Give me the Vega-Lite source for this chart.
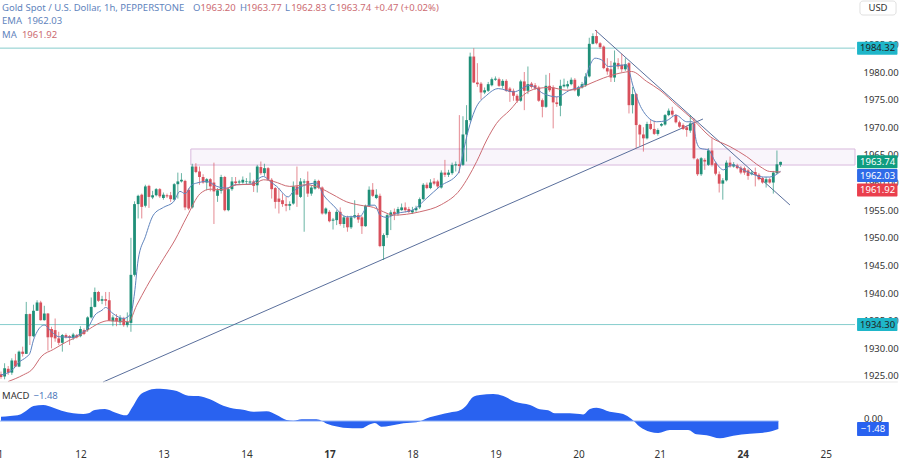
{
  "$schema": "https://vega.github.io/schema/vega-lite/v6.json",
  "width": 855,
  "height": 445,
  "autosize": "none",
  "padding": {"left": 0, "top": 0, "right": 45, "bottom": 17},
  "background": "#ffffff",
  "config": {
    "view": {"stroke": null},
    "font": "Noto Sans",
    "scale": {"continuousPadding": 0},
    "axis": {"labelOverlap": false, "labelBound": false, "labelFlush": false, "grid": false, "domain": false, "ticks": false, "title": null}
  },
  "datasets": {
    "one": [{}],
    "candles": [
      {"bar":0,"open":1925.3,"high":1925.8,"low":1924.5,"close":1924.8},
      {"bar":1,"open":1924.9,"high":1927.3,"low":1924.4,"close":1926.4},
      {"bar":2,"open":1926.3,"high":1926.8,"low":1925.2,"close":1925.6},
      {"bar":3,"open":1925.6,"high":1928.2,"low":1925.2,"close":1927.8},
      {"bar":4,"open":1927.8,"high":1929,"low":1926.6,"close":1926.7},
      {"bar":5,"open":1926.7,"high":1929.6,"low":1926.6,"close":1929.4},
      {"bar":6,"open":1929.4,"high":1930.3,"low":1928.5,"close":1929},
      {"bar":7,"open":1929,"high":1938.4,"low":1929,"close":1936.2},
      {"bar":8,"open":1936.2,"high":1936.3,"low":1930.6,"close":1932.2},
      {"bar":9,"open":1932.2,"high":1937.9,"low":1932,"close":1936.8},
      {"bar":10,"open":1936.8,"high":1938.7,"low":1936.8,"close":1938.3},
      {"bar":11,"open":1938.3,"high":1938.6,"low":1935,"close":1935.1},
      {"bar":12,"open":1935.1,"high":1937.7,"low":1935,"close":1936.3},
      {"bar":13,"open":1936.3,"high":1936.4,"low":1929.6,"close":1932},
      {"bar":14,"open":1933.5,"high":1933.9,"low":1930,"close":1932},
      {"bar":15,"open":1933.3,"high":1935.4,"low":1931.2,"close":1931.8},
      {"bar":16,"open":1931.8,"high":1933,"low":1930.6,"close":1931},
      {"bar":17,"open":1931,"high":1932.6,"low":1929.4,"close":1932.4},
      {"bar":18,"open":1932.4,"high":1932.7,"low":1931.8,"close":1932},
      {"bar":19,"open":1932.2,"high":1932.4,"low":1930.6,"close":1931.9},
      {"bar":20,"open":1931.9,"high":1932.8,"low":1931.5,"close":1932.5},
      {"bar":21,"open":1932.4,"high":1932.6,"low":1931.8,"close":1932},
      {"bar":22,"open":1932.2,"high":1934,"low":1932,"close":1933.5},
      {"bar":23,"open":1933.3,"high":1933.6,"low":1932.4,"close":1932.6},
      {"bar":24,"open":1933.3,"high":1935.8,"low":1933,"close":1935.6},
      {"bar":25,"open":1935.6,"high":1939.2,"low":1935.4,"close":1937.5},
      {"bar":26,"open":1937.5,"high":1941,"low":1937.4,"close":1940.2},
      {"bar":27,"open":1940.2,"high":1940.4,"low":1938.4,"close":1938.6},
      {"bar":28,"open":1938.6,"high":1939.5,"low":1938,"close":1938.9},
      {"bar":29,"open":1938.9,"high":1940.2,"low":1937.7,"close":1938.6},
      {"bar":30,"open":1938.7,"high":1940.2,"low":1935,"close":1935},
      {"bar":31,"open":1934.9,"high":1936,"low":1934,"close":1935.6},
      {"bar":32,"open":1935.5,"high":1936.2,"low":1934,"close":1934.9},
      {"bar":33,"open":1934.7,"high":1936,"low":1934.2,"close":1935.5},
      {"bar":34,"open":1935.4,"high":1935.7,"low":1933.9,"close":1934.2},
      {"bar":35,"open":1934.2,"high":1936.5,"low":1933.8,"close":1934.8},
      {"bar":36,"open":1934.6,"high":1950,"low":1933,"close":1943.3},
      {"bar":37,"open":1943.3,"high":1956.6,"low":1943,"close":1956.1},
      {"bar":38,"open":1956.1,"high":1957.8,"low":1953.5,"close":1957.6},
      {"bar":39,"open":1957.8,"high":1958,"low":1953.5,"close":1955.6},
      {"bar":40,"open":1955.8,"high":1959.6,"low":1955.5,"close":1959.3},
      {"bar":41,"open":1959.4,"high":1959.6,"low":1955.4,"close":1957.4},
      {"bar":42,"open":1957.3,"high":1958.5,"low":1957,"close":1957.7},
      {"bar":43,"open":1957.7,"high":1959,"low":1957.5,"close":1958.8},
      {"bar":44,"open":1958.8,"high":1959,"low":1957.2,"close":1957.5},
      {"bar":45,"open":1957.2,"high":1958.2,"low":1956.9,"close":1957.8},
      {"bar":46,"open":1957.7,"high":1958,"low":1957.2,"close":1957.5},
      {"bar":47,"open":1957.7,"high":1958.3,"low":1956.5,"close":1957},
      {"bar":48,"open":1956.9,"high":1959.9,"low":1956.7,"close":1959.7},
      {"bar":49,"open":1959.7,"high":1961.8,"low":1957.1,"close":1960.2},
      {"bar":50,"open":1960.2,"high":1961.7,"low":1960,"close":1960.5},
      {"bar":51,"open":1960.3,"high":1960.5,"low":1955,"close":1955.5},
      {"bar":52,"open":1958.7,"high":1959,"low":1955,"close":1955.3},
      {"bar":53,"open":1955.5,"high":1963.4,"low":1955.3,"close":1962.9},
      {"bar":54,"open":1962.9,"high":1963.5,"low":1961.7,"close":1961.9},
      {"bar":55,"open":1962,"high":1962.9,"low":1959.6,"close":1961},
      {"bar":56,"open":1961,"high":1961.5,"low":1959.8,"close":1960},
      {"bar":57,"open":1960,"high":1960.8,"low":1958.6,"close":1960.6},
      {"bar":58,"open":1960.6,"high":1960.8,"low":1958.4,"close":1959.3},
      {"bar":59,"open":1960,"high":1963.6,"low":1952.5,"close":1958.4},
      {"bar":60,"open":1957.6,"high":1959,"low":1956.5,"close":1958.6},
      {"bar":61,"open":1958.5,"high":1961.4,"low":1958,"close":1961},
      {"bar":62,"open":1961,"high":1961.2,"low":1954.8,"close":1955},
      {"bar":63,"open":1955,"high":1959,"low":1954.8,"close":1958.8},
      {"bar":64,"open":1958.8,"high":1961,"low":1958.5,"close":1960.2},
      {"bar":65,"open":1960.2,"high":1961,"low":1959.5,"close":1959.9},
      {"bar":66,"open":1960,"high":1960.5,"low":1959.7,"close":1960.2},
      {"bar":67,"open":1960,"high":1961.1,"low":1959.8,"close":1960.5},
      {"bar":68,"open":1960.1,"high":1960.8,"low":1959.7,"close":1960.2},
      {"bar":69,"open":1960,"high":1961.8,"low":1959.7,"close":1960.2},
      {"bar":70,"open":1960.2,"high":1960.5,"low":1958.3,"close":1959.4},
      {"bar":71,"open":1959.5,"high":1963.2,"low":1958.2,"close":1962.9},
      {"bar":72,"open":1962.8,"high":1963.8,"low":1961.4,"close":1961.7},
      {"bar":73,"open":1961.7,"high":1963.4,"low":1961.2,"close":1962.6},
      {"bar":74,"open":1962.6,"high":1962.8,"low":1960.4,"close":1960.5},
      {"bar":75,"open":1960.5,"high":1960.8,"low":1957.1,"close":1958.8},
      {"bar":76,"open":1959,"high":1959.2,"low":1955.3,"close":1956.5},
      {"bar":77,"open":1957.1,"high":1959,"low":1954.4,"close":1956.5},
      {"bar":78,"open":1956.8,"high":1958,"low":1955.6,"close":1956.1},
      {"bar":79,"open":1956.1,"high":1957.4,"low":1954.8,"close":1955.8},
      {"bar":80,"open":1955.8,"high":1956.6,"low":1955,"close":1956.1},
      {"bar":81,"open":1956.2,"high":1960.2,"low":1956,"close":1959.3},
      {"bar":82,"open":1959.3,"high":1962.9,"low":1955.6,"close":1957.8},
      {"bar":83,"open":1957.4,"high":1960.8,"low":1957.2,"close":1960.2},
      {"bar":84,"open":1960,"high":1960.6,"low":1951.1,"close":1960.2},
      {"bar":85,"open":1960.3,"high":1962,"low":1957.4,"close":1958},
      {"bar":86,"open":1958,"high":1959.4,"low":1957.6,"close":1959.1},
      {"bar":87,"open":1958.9,"high":1960.6,"low":1958.7,"close":1960.3},
      {"bar":88,"open":1960.3,"high":1960.5,"low":1958.8,"close":1959.1},
      {"bar":89,"open":1959.1,"high":1959.3,"low":1954.2,"close":1954.4},
      {"bar":90,"open":1954.4,"high":1955.5,"low":1954.2,"close":1955.3},
      {"bar":91,"open":1954.7,"high":1955,"low":1952.8,"close":1953},
      {"bar":92,"open":1953.1,"high":1953.6,"low":1951.5,"close":1953.3},
      {"bar":93,"open":1953.2,"high":1955,"low":1952.3,"close":1954.7},
      {"bar":94,"open":1954.7,"high":1955.5,"low":1952.2,"close":1952.5},
      {"bar":95,"open":1952.5,"high":1954,"low":1951.8,"close":1953.7},
      {"bar":96,"open":1953.7,"high":1954,"low":1951.1,"close":1951.9},
      {"bar":97,"open":1951.9,"high":1954,"low":1951.6,"close":1953.7},
      {"bar":98,"open":1953.7,"high":1956.8,"low":1953.5,"close":1954.1},
      {"bar":99,"open":1954.1,"high":1954.5,"low":1952.7,"close":1953.3},
      {"bar":100,"open":1953.7,"high":1954,"low":1950.7,"close":1952.1},
      {"bar":101,"open":1952.1,"high":1956,"low":1952,"close":1955.8},
      {"bar":102,"open":1955.8,"high":1959.3,"low":1955.6,"close":1958.7},
      {"bar":103,"open":1958.7,"high":1959.9,"low":1957.4,"close":1957.6},
      {"bar":104,"open":1957.2,"high":1958.8,"low":1957,"close":1957.8},
      {"bar":105,"open":1957.6,"high":1958,"low":1948.3,"close":1948.5},
      {"bar":106,"open":1948.5,"high":1950.8,"low":1946,"close":1950.5},
      {"bar":107,"open":1950.5,"high":1954.4,"low":1950,"close":1954.1},
      {"bar":108,"open":1954,"high":1955,"low":1951.4,"close":1954.6},
      {"bar":109,"open":1954.7,"high":1955.3,"low":1953.2,"close":1954.3},
      {"bar":110,"open":1954.4,"high":1955.6,"low":1954,"close":1955.2},
      {"bar":111,"open":1955,"high":1956.2,"low":1954.9,"close":1955.5},
      {"bar":112,"open":1955.5,"high":1956.4,"low":1954.6,"close":1955},
      {"bar":113,"open":1955.2,"high":1955.6,"low":1954.5,"close":1954.7},
      {"bar":114,"open":1954.6,"high":1955.6,"low":1954.3,"close":1955},
      {"bar":115,"open":1955,"high":1955.8,"low":1954.7,"close":1955.4},
      {"bar":116,"open":1955.5,"high":1957.3,"low":1955.2,"close":1957},
      {"bar":117,"open":1957,"high":1959.9,"low":1956.8,"close":1959.6},
      {"bar":118,"open":1959.6,"high":1960,"low":1958.8,"close":1959},
      {"bar":119,"open":1959,"high":1960.6,"low":1958.8,"close":1960},
      {"bar":120,"open":1960.2,"high":1960.8,"low":1959.5,"close":1959.8},
      {"bar":121,"open":1960.2,"high":1960.5,"low":1959,"close":1959.3},
      {"bar":122,"open":1959.1,"high":1962.2,"low":1958.9,"close":1961.8},
      {"bar":123,"open":1961.8,"high":1964.1,"low":1961,"close":1961.4},
      {"bar":124,"open":1961.4,"high":1962.3,"low":1961,"close":1961.8},
      {"bar":125,"open":1961.7,"high":1963.6,"low":1961.4,"close":1963.2},
      {"bar":126,"open":1963.1,"high":1963.8,"low":1962,"close":1963.3},
      {"bar":127,"open":1963.3,"high":1972.2,"low":1961.7,"close":1963},
      {"bar":128,"open":1963.2,"high":1972,"low":1963,"close":1968.7},
      {"bar":129,"open":1968.7,"high":1974,"low":1963.8,"close":1971.3},
      {"bar":130,"open":1971.3,"high":1983.5,"low":1971,"close":1982.8},
      {"bar":131,"open":1982.8,"high":1984.3,"low":1978,"close":1978.1},
      {"bar":132,"open":1978.1,"high":1981.6,"low":1977.3,"close":1977.8},
      {"bar":133,"open":1977.9,"high":1978.2,"low":1975,"close":1976.3},
      {"bar":134,"open":1976.3,"high":1977.2,"low":1976,"close":1976.7},
      {"bar":135,"open":1976.6,"high":1978.2,"low":1976.4,"close":1977.8},
      {"bar":136,"open":1977.6,"high":1979,"low":1977.4,"close":1978.7},
      {"bar":137,"open":1978.6,"high":1979.2,"low":1978.4,"close":1978.8},
      {"bar":138,"open":1978.7,"high":1979,"low":1977.3,"close":1977.5},
      {"bar":139,"open":1977.5,"high":1978.7,"low":1977,"close":1978.4},
      {"bar":140,"open":1978.4,"high":1978.7,"low":1976.4,"close":1976.6},
      {"bar":141,"open":1977,"high":1977.3,"low":1974.6,"close":1976.4},
      {"bar":142,"open":1976.6,"high":1977,"low":1974.8,"close":1975.7},
      {"bar":143,"open":1975.7,"high":1976,"low":1974.4,"close":1974.8},
      {"bar":144,"open":1974.8,"high":1978.6,"low":1974.6,"close":1978.3},
      {"bar":145,"open":1978.3,"high":1980,"low":1973.1,"close":1976.6},
      {"bar":146,"open":1976.6,"high":1981,"low":1976,"close":1977.8},
      {"bar":147,"open":1977.9,"high":1978.2,"low":1977,"close":1977.3},
      {"bar":148,"open":1977.6,"high":1978,"low":1976.8,"close":1977},
      {"bar":149,"open":1977.2,"high":1977.5,"low":1974.6,"close":1974.8},
      {"bar":150,"open":1974.9,"high":1975.2,"low":1971.8,"close":1973.7},
      {"bar":151,"open":1973.7,"high":1979.5,"low":1973.5,"close":1977.5},
      {"bar":152,"open":1977.5,"high":1979.8,"low":1976.4,"close":1976.7},
      {"bar":153,"open":1977.2,"high":1977.6,"low":1969.8,"close":1974.5},
      {"bar":154,"open":1974.5,"high":1975.5,"low":1973.7,"close":1974.2},
      {"bar":155,"open":1973.9,"high":1978.6,"low":1972,"close":1977.5},
      {"bar":156,"open":1977.4,"high":1978.8,"low":1977.2,"close":1977.7},
      {"bar":157,"open":1977.4,"high":1978.4,"low":1977,"close":1977.8},
      {"bar":158,"open":1977.8,"high":1979,"low":1977.6,"close":1978.6},
      {"bar":159,"open":1978.6,"high":1978.9,"low":1976.5,"close":1976.7},
      {"bar":160,"open":1975.7,"high":1977.5,"low":1975.5,"close":1977.2},
      {"bar":161,"open":1977.2,"high":1978.2,"low":1977,"close":1977.8},
      {"bar":162,"open":1977.6,"high":1979.8,"low":1977.3,"close":1979.2},
      {"bar":163,"open":1979.2,"high":1986.2,"low":1979,"close":1985.1},
      {"bar":164,"open":1985.1,"high":1987,"low":1985,"close":1986.5},
      {"bar":165,"open":1986.5,"high":1987.6,"low":1985,"close":1985.2},
      {"bar":166,"open":1985.2,"high":1985.4,"low":1984.2,"close":1984.5},
      {"bar":167,"open":1984.6,"high":1984.8,"low":1980.5,"close":1980.7},
      {"bar":168,"open":1980.7,"high":1982.5,"low":1979.5,"close":1980.1},
      {"bar":169,"open":1980.5,"high":1982,"low":1978.2,"close":1979},
      {"bar":170,"open":1979,"high":1983.9,"low":1978.2,"close":1981.7},
      {"bar":171,"open":1981.6,"high":1982.5,"low":1980.5,"close":1981},
      {"bar":172,"open":1981.3,"high":1983.3,"low":1980,"close":1980.5},
      {"bar":173,"open":1980.5,"high":1982.5,"low":1980.2,"close":1981.4},
      {"bar":174,"open":1981.6,"high":1981.8,"low":1972.5,"close":1974},
      {"bar":175,"open":1974,"high":1977.3,"low":1972.5,"close":1976},
      {"bar":176,"open":1976,"high":1976.2,"low":1966.2,"close":1970.4},
      {"bar":177,"open":1970.4,"high":1970.6,"low":1966.5,"close":1968.7},
      {"bar":178,"open":1968.7,"high":1970,"low":1965.6,"close":1968},
      {"bar":179,"open":1968,"high":1971,"low":1967.8,"close":1970.6},
      {"bar":180,"open":1970.6,"high":1971.3,"low":1969.5,"close":1969.7},
      {"bar":181,"open":1969.7,"high":1971.2,"low":1968.6,"close":1968.8},
      {"bar":182,"open":1968.8,"high":1969.8,"low":1968.5,"close":1969.5},
      {"bar":183,"open":1970.3,"high":1970.8,"low":1970.1,"close":1970.6},
      {"bar":184,"open":1970.5,"high":1972.4,"low":1970.3,"close":1972.2},
      {"bar":185,"open":1972.2,"high":1973.4,"low":1972,"close":1973},
      {"bar":186,"open":1973,"high":1973.7,"low":1972,"close":1972.3},
      {"bar":187,"open":1972.2,"high":1972.4,"low":1970.7,"close":1970.9},
      {"bar":188,"open":1970.9,"high":1971.2,"low":1969.9,"close":1970.1},
      {"bar":189,"open":1970.4,"high":1970.7,"low":1969.5,"close":1969.7},
      {"bar":190,"open":1970,"high":1970.3,"low":1968.3,"close":1969.5},
      {"bar":191,"open":1969.4,"high":1972.2,"low":1969,"close":1970.7},
      {"bar":192,"open":1970.7,"high":1971.6,"low":1964.2,"close":1964.4},
      {"bar":193,"open":1964.2,"high":1964.4,"low":1961.2,"close":1961.5},
      {"bar":194,"open":1961.5,"high":1964.6,"low":1961.2,"close":1964.4},
      {"bar":195,"open":1964.1,"high":1964.4,"low":1962.3,"close":1963.8},
      {"bar":196,"open":1963.2,"high":1966.2,"low":1963,"close":1965.8},
      {"bar":197,"open":1965.8,"high":1968,"low":1962.9,"close":1963.2},
      {"bar":198,"open":1963.5,"high":1963.8,"low":1961.3,"close":1961.6},
      {"bar":199,"open":1961.5,"high":1962,"low":1958.2,"close":1959.8},
      {"bar":200,"open":1959.8,"high":1960.8,"low":1956.9,"close":1960.4},
      {"bar":201,"open":1960.4,"high":1964,"low":1960.2,"close":1963.6},
      {"bar":202,"open":1963.6,"high":1964.7,"low":1962.7,"close":1962.9},
      {"bar":203,"open":1962.9,"high":1963.7,"low":1962.7,"close":1963.3},
      {"bar":204,"open":1963.1,"high":1963.4,"low":1962.4,"close":1962.6},
      {"bar":205,"open":1962.7,"high":1963,"low":1961.5,"close":1961.8},
      {"bar":206,"open":1962.6,"high":1962.9,"low":1961.4,"close":1961.8},
      {"bar":207,"open":1962.2,"high":1962.5,"low":1960.5,"close":1961.2},
      {"bar":208,"open":1961.5,"high":1962.1,"low":1961.3,"close":1961.8},
      {"bar":209,"open":1961.9,"high":1962.7,"low":1959.3,"close":1961.4},
      {"bar":210,"open":1961.4,"high":1961.7,"low":1960.4,"close":1960.6},
      {"bar":211,"open":1960.8,"high":1961,"low":1959.8,"close":1960},
      {"bar":212,"open":1960,"high":1961,"low":1959.1,"close":1960.6},
      {"bar":213,"open":1960.6,"high":1960.9,"low":1959.8,"close":1960},
      {"bar":214,"open":1960,"high":1962.1,"low":1958,"close":1961.8},
      {"bar":215,"open":1961.7,"high":1965.8,"low":1961.5,"close":1963.3},
      {"bar":216,"open":1963.2,"high":1963.77,"low":1962.83,"close":1963.74}
    ],
    "averages": [
      {"series":"EMA","bar":0,"value":1925.2},{"series":"EMA","bar":3,"value":1926},{"series":"EMA","bar":5,"value":1927.5},{"series":"EMA","bar":7,"value":1928.4},{"series":"EMA","bar":8,"value":1929.1},{"series":"EMA","bar":9,"value":1931.5},{"series":"EMA","bar":10,"value":1933},{"series":"EMA","bar":12,"value":1934.2},{"series":"EMA","bar":14,"value":1933},{"series":"EMA","bar":16,"value":1932.1},{"series":"EMA","bar":20,"value":1932},{"series":"EMA","bar":22,"value":1932.7},{"series":"EMA","bar":24,"value":1933.6},{"series":"EMA","bar":26,"value":1936},{"series":"EMA","bar":28,"value":1936.9},{"series":"EMA","bar":29,"value":1937.4},{"series":"EMA","bar":31,"value":1936.3},{"series":"EMA","bar":34,"value":1935.4},{"series":"EMA","bar":36,"value":1936.3},{"series":"EMA","bar":37,"value":1940},{"series":"EMA","bar":38,"value":1946},{"series":"EMA","bar":40,"value":1950.2},{"series":"EMA","bar":42.2,"value":1954.1},{"series":"EMA","bar":45,"value":1955.5},{"series":"EMA","bar":47.8,"value":1956.5},{"series":"EMA","bar":49.6,"value":1958.4},{"series":"EMA","bar":51,"value":1958},{"series":"EMA","bar":52.9,"value":1959.6},{"series":"EMA","bar":54.2,"value":1959.9},{"series":"EMA","bar":57,"value":1960.2},{"series":"EMA","bar":59.8,"value":1959.3},{"series":"EMA","bar":62.5,"value":1959},{"series":"EMA","bar":64.9,"value":1959.6},{"series":"EMA","bar":69,"value":1959.7},{"series":"EMA","bar":72.7,"value":1961.1},{"series":"EMA","bar":74.6,"value":1960.2},{"series":"EMA","bar":76.4,"value":1959.3},{"series":"EMA","bar":79.6,"value":1957.4},{"series":"EMA","bar":81,"value":1958.4},{"series":"EMA","bar":83.3,"value":1959.3},{"series":"EMA","bar":87.5,"value":1959.9},{"series":"EMA","bar":89.3,"value":1957.8},{"series":"EMA","bar":92,"value":1955.9},{"series":"EMA","bar":95.8,"value":1953.8},{"series":"EMA","bar":99.5,"value":1953.9},{"series":"EMA","bar":101.8,"value":1955.9},{"series":"EMA","bar":103.6,"value":1955.9},{"series":"EMA","bar":105,"value":1954.1},{"series":"EMA","bar":106.9,"value":1953.7},{"series":"EMA","bar":109.6,"value":1954.4},{"series":"EMA","bar":114,"value":1955},{"series":"EMA","bar":118,"value":1957.2},{"series":"EMA","bar":121.6,"value":1959.3},{"series":"EMA","bar":126.7,"value":1961.7},{"series":"EMA","bar":128,"value":1965.3},{"series":"EMA","bar":129.5,"value":1969.5},{"series":"EMA","bar":131.3,"value":1973.1},{"series":"EMA","bar":134.6,"value":1975.8},{"series":"EMA","bar":137.8,"value":1977},{"series":"EMA","bar":142,"value":1976.4},{"series":"EMA","bar":146.6,"value":1977.6},{"series":"EMA","bar":150.3,"value":1976.1},{"series":"EMA","bar":154,"value":1975.5},{"series":"EMA","bar":157.6,"value":1976.7},{"series":"EMA","bar":161.3,"value":1977.6},{"series":"EMA","bar":162.7,"value":1980.4},{"series":"EMA","bar":164.6,"value":1982.5},{"series":"EMA","bar":166.4,"value":1982.2},{"series":"EMA","bar":168.3,"value":1981},{"series":"EMA","bar":173.3,"value":1981.3},{"series":"EMA","bar":175.2,"value":1977.3},{"series":"EMA","bar":177.5,"value":1973.4},{"series":"EMA","bar":181.7,"value":1971},{"series":"EMA","bar":184.4,"value":1971.2},{"series":"EMA","bar":187,"value":1972.2},{"series":"EMA","bar":190,"value":1971},{"series":"EMA","bar":191.6,"value":1971},{"series":"EMA","bar":192.7,"value":1967.4},{"series":"EMA","bar":193.7,"value":1966.2},{"series":"EMA","bar":196,"value":1965.9},{"series":"EMA","bar":197.9,"value":1963.8},{"series":"EMA","bar":200.2,"value":1962.3},{"series":"EMA","bar":202.5,"value":1963.2},{"series":"EMA","bar":206.6,"value":1962},{"series":"EMA","bar":211.2,"value":1961},{"series":"EMA","bar":213,"value":1961},{"series":"EMA","bar":216,"value":1962.03},
      {"series":"MA","bar":2,"value":1924},{"series":"MA","bar":6.2,"value":1925.2},{"series":"MA","bar":8.5,"value":1926.1},{"series":"MA","bar":11.3,"value":1928.6},{"series":"MA","bar":14.5,"value":1929.8},{"series":"MA","bar":18.2,"value":1931.2},{"series":"MA","bar":22,"value":1932.4},{"series":"MA","bar":24.7,"value":1933.6},{"series":"MA","bar":27.4,"value":1934.6},{"series":"MA","bar":29.7,"value":1935},{"series":"MA","bar":35.3,"value":1934.8},{"series":"MA","bar":37.6,"value":1937.8},{"series":"MA","bar":40.4,"value":1941.2},{"series":"MA","bar":45,"value":1946.2},{"series":"MA","bar":48.2,"value":1949.6},{"series":"MA","bar":51.5,"value":1953.8},{"series":"MA","bar":55.2,"value":1958},{"series":"MA","bar":58,"value":1958.8},{"series":"MA","bar":61.6,"value":1958.7},{"series":"MA","bar":65.3,"value":1959.6},{"series":"MA","bar":70,"value":1959.7},{"series":"MA","bar":72.7,"value":1960.5},{"series":"MA","bar":75.5,"value":1960.2},{"series":"MA","bar":80,"value":1959.3},{"series":"MA","bar":84.7,"value":1959.6},{"series":"MA","bar":88.4,"value":1959},{"series":"MA","bar":92,"value":1957.8},{"series":"MA","bar":95.8,"value":1956.5},{"series":"MA","bar":99.5,"value":1955.9},{"series":"MA","bar":103.2,"value":1955.5},{"series":"MA","bar":106,"value":1954.7},{"series":"MA","bar":108.7,"value":1954.1},{"series":"MA","bar":116,"value":1954.7},{"series":"MA","bar":122,"value":1956},{"series":"MA","bar":127.2,"value":1958.7},{"series":"MA","bar":129.5,"value":1961},{"series":"MA","bar":131.8,"value":1963.8},{"series":"MA","bar":134.6,"value":1967.7},{"series":"MA","bar":137.3,"value":1970.7},{"series":"MA","bar":141,"value":1973.1},{"series":"MA","bar":144.7,"value":1975.8},{"series":"MA","bar":148.4,"value":1977},{"series":"MA","bar":152.1,"value":1977.2},{"series":"MA","bar":156.7,"value":1976.7},{"series":"MA","bar":159.5,"value":1976.9},{"series":"MA","bar":163.2,"value":1977.9},{"series":"MA","bar":166.9,"value":1978.9},{"series":"MA","bar":171.5,"value":1979.8},{"series":"MA","bar":174.7,"value":1980.1},{"series":"MA","bar":178.9,"value":1978.3},{"series":"MA","bar":182.6,"value":1976.7},{"series":"MA","bar":187.2,"value":1974},{"series":"MA","bar":191.9,"value":1971.3},{"series":"MA","bar":196.5,"value":1968.3},{"series":"MA","bar":202,"value":1966.5},{"series":"MA","bar":206.6,"value":1964.7},{"series":"MA","bar":210.3,"value":1962.9},{"series":"MA","bar":213,"value":1962},{"series":"MA","bar":216,"value":1961.92}
    ],
    "trends": [
      {"line":"support","bar":28.3,"price":1923.91},{"line":"support","bar":194.5,"price":1971.5},
      {"line":"resistance","bar":164.6,"price":1987.6},{"line":"resistance","bar":218.6,"price":1955.94}
    ],
    "zone": [{"start":52.6,"end":236.63,"top":1966.07,"bottom":1963.17}],
    "levels": [{"price":1984.32},{"price":1934.3}],
    "tags": [
      {"label":"1984.32","price":1984.32,"kind":"level"},
      {"label":"1934.30","price":1934.3,"kind":"level"},
      {"label":"1963.74","price":1963.74,"kind":"last"},
      {"label":"1962.03","price":1961.27,"kind":"ema"},
      {"label":"1961.92","price":1958.65,"kind":"ma"}
    ],
    "header": [
      {"label":"Gold Spot / U.S. Dollar, 1h, PEPPERSTONE","bar":0.28,"price":1991.58,"kind":"text"},
      {"label":"O","bar":53.2,"price":1991.58,"kind":"text"},
      {"label":"1963.20","bar":55.3,"price":1991.58,"kind":"up"},
      {"label":"H","bar":66.2,"price":1991.58,"kind":"text"},
      {"label":"1963.77","bar":68,"price":1991.58,"kind":"up"},
      {"label":"L","bar":78.7,"price":1991.58,"kind":"text"},
      {"label":"1962.83","bar":80.4,"price":1991.58,"kind":"up"},
      {"label":"C","bar":90.9,"price":1991.58,"kind":"text"},
      {"label":"1963.74","bar":92.8,"price":1991.58,"kind":"up"},
      {"label":"+0.47 (+0.02%)","bar":103.4,"price":1991.58,"kind":"up"},
      {"label":"EMA","bar":0.28,"price":1989.23,"kind":"text"},
      {"label":"1962.03","bar":7.2,"price":1989.23,"kind":"ema"},
      {"label":"MA","bar":0.28,"price":1986.69,"kind":"text"},
      {"label":"1961.92","bar":5.8,"price":1986.69,"kind":"ma"}
    ],
    "macd": [
      {"bar":0,"macd":0.8},{"bar":2.5,"macd":0.93},{"bar":5.3,"macd":1.23},{"bar":6.6,"macd":1.73},{"bar":9,"macd":2.78},{"bar":11.7,"macd":2.96},{"bar":14.5,"macd":2.47},{"bar":16.8,"macd":1.91},{"bar":20,"macd":1.42},{"bar":22.8,"macd":1.3},{"bar":24.2,"macd":1.42},{"bar":26,"macd":2.04},{"bar":28.8,"macd":2.22},{"bar":31.6,"macd":1.6},{"bar":34.8,"macd":1.05},{"bar":36.2,"macd":2.35},{"bar":38.5,"macd":4.81},{"bar":40.4,"macd":5.56},{"bar":43.1,"macd":5.99},{"bar":45,"macd":5.93},{"bar":48.7,"macd":5.56},{"bar":51.9,"macd":4.69},{"bar":54.7,"macd":4.63},{"bar":57.9,"macd":4.01},{"bar":61.6,"macd":2.84},{"bar":63.4,"macd":2.47},{"bar":67.1,"macd":2.1},{"bar":69.9,"macd":1.73},{"bar":73.6,"macd":1.79},{"bar":76.4,"macd":1.11},{"bar":79.1,"macd":0.19},{"bar":81,"macd":0.06},{"bar":83.3,"macd":0.31},{"bar":87.4,"macd":0.31},{"bar":90.7,"macd":-0.62},{"bar":94.8,"macd":-1.23},{"bar":99.9,"macd":-1.36},{"bar":101.8,"macd":-0.74},{"bar":103.6,"macd":-0.37},{"bar":105.4,"macd":-1.05},{"bar":107.8,"macd":-0.86},{"bar":111.5,"macd":-0.43},{"bar":115.1,"macd":-0.25},{"bar":118.8,"macd":0.68},{"bar":124.4,"macd":1.6},{"bar":126.7,"macd":1.85},{"bar":128.6,"macd":2.65},{"bar":130.9,"macd":4.51},{"bar":132.7,"macd":4.81},{"bar":136.4,"macd":5},{"bar":139.2,"macd":4.63},{"bar":142.4,"macd":3.58},{"bar":146.6,"macd":2.96},{"bar":149.3,"macd":2.16},{"bar":151.6,"macd":1.98},{"bar":153.5,"macd":1.42},{"bar":157.6,"macd":1.42},{"bar":161.3,"macd":1.23},{"bar":163.2,"macd":2.22},{"bar":165,"macd":2.47},{"bar":168.7,"macd":1.73},{"bar":172.4,"macd":1.3},{"bar":174.7,"macd":0.37},{"bar":177,"macd":-1.05},{"bar":179.8,"macd":-1.98},{"bar":182.1,"macd":-2.22},{"bar":185.3,"macd":-1.67},{"bar":190.4,"macd":-1.67},{"bar":192.7,"macd":-2.47},{"bar":195.5,"macd":-2.65},{"bar":199.2,"macd":-3.21},{"bar":202.9,"macd":-2.72},{"bar":207.5,"macd":-2.35},{"bar":212.1,"macd":-2.1},{"bar":215.4,"macd":-1.48}
    ]
  },
  "layer": [
    {
      "layer": [
        {
          "data": {"name": "zone"},
          "mark": {"type": "rect", "fill": "#f9f5fb", "stroke": "#d9b9dd", "strokeWidth": 1},
          "encoding": {
            "x": {
              "field": "start", "type": "quantitative",
              "scale": {"domain": [-0.277, 236.63], "nice": false, "zero": false, "padding": 0},
              "axis": {
                "orient": "bottom", "tickCount": 100,
                "values": [22, 45, 68, 91, 114, 137, 160, 182.5, 205.5, 228.5],
                "labelExpr": "{'22':'12','45':'13','68':'14','91':'17','114':'18','137':'19','160':'20','182.5':'21','205.5':'24','228.5':'25'}[datum.value]",
                "labelFont": "Noto Sans", "labelFontSize": 10, "labelColor": "#333333", "labelPadding": 4,
                "labelFontWeight": {"condition": {"test": "datum.value == 91 || datum.value == 205.5", "value": "bold"}, "value": "normal"}
              }
            },
            "x2": {"field": "end"},
            "y": {
              "field": "top", "type": "quantitative",
              "scale": {"domain": [1912.51, 1993.03], "nice": false, "zero": false, "padding": 0},
              "axis": {
                "orient": "right", "tickCount": 100,
                "values": [1925, 1930, 1935, 1940, 1945, 1950, 1955, 1960, 1965, 1970, 1975, 1980, 1985],
                "format": ".2f", "labelFont": "Noto Sans", "labelFontSize": 9.5, "labelColor": "#333333",
                "labelPadding": 8
              }
            },
            "y2": {"field": "bottom"}
          }
        },
        {
          "data": {"name": "levels"},
          "mark": {"type": "rule", "color": "#86cdcd", "strokeWidth": 1},
          "encoding": {"y": {"field": "price", "type": "quantitative"}}
        },
        {
          "data": {"name": "trends"},
          "mark": {"type": "line", "color": "#5a6f9c", "strokeWidth": 1},
          "encoding": {
            "x": {"field": "bar", "type": "quantitative"},
            "y": {"field": "price", "type": "quantitative"},
            "detail": {"field": "line"}
          }
        },
        {
          "data": {"name": "candles"},
          "mark": {"type": "rule", "strokeWidth": 0.9, "opacity": 0.75},
          "encoding": {
            "x": {"field": "bar", "type": "quantitative"},
            "y": {"field": "low", "type": "quantitative"},
            "y2": {"field": "high"},
            "color": {"condition": {"test": "datum.close >= datum.open", "value": "#1f8f78"}, "value": "#d8505c"}
          }
        },
        {
          "data": {"name": "candles"},
          "mark": {"type": "bar", "orient": "vertical", "size": 2.8},
          "encoding": {
            "x": {"field": "bar", "type": "quantitative"},
            "y": {"field": "open", "type": "quantitative"},
            "y2": {"field": "close"},
            "color": {"condition": {"test": "datum.close >= datum.open", "value": "#1f8f78"}, "value": "#d8505c"}
          }
        },
        {
          "data": {"name": "averages"},
          "mark": {"type": "line", "strokeWidth": 1, "interpolate": "monotone"},
          "encoding": {
            "x": {"field": "bar", "type": "quantitative"},
            "y": {"field": "value", "type": "quantitative"},
            "color": {"field": "series", "type": "nominal", "legend": null, "scale": {"domain": ["EMA", "MA"], "range": ["#5f84bd", "#cc6b72"]}}
          }
        },
        {
          "data": {"name": "one"},
          "mark": {"type": "rule", "color": "#e8e8e8", "strokeWidth": 1},
          "encoding": {
            "x": {"datum": -0.277},
            "x2": {"datum": 248.5},
            "y": {"datum": 1923.91}
          }
        },
        {
          "data": {"name": "one"},
          "mark": {"type": "text", "text": "11", "align": "center", "baseline": "middle", "font": "Noto Sans", "fontSize": 10, "color": "#333333"},
          "encoding": {
            "x": {"datum": -1},
            "y": {"datum": 1910.7}
          }
        },
        {
          "data": {"name": "header"},
          "mark": {"type": "text", "align": "left", "baseline": "middle", "font": "Noto Sans", "fontSize": 9.5},
          "encoding": {
            "x": {"field": "bar", "type": "quantitative"},
            "y": {"field": "price", "type": "quantitative"},
            "text": {"field": "label"},
            "color": {"field": "kind", "type": "nominal", "legend": null, "scale": {"domain": ["text", "up", "ema", "ma"], "range": ["#333333", "#1f9a80", "#4f78bb", "#c9566a"]}}
          }
        },
        {
          "data": {"name": "tags"},
          "mark": {"type": "bar", "orient": "horizontal", "size": 13, "cornerRadius": 1},
          "encoding": {
            "x": {"datum": 237.2},
            "x2": {"datum": 248.4},
            "y": {"field": "price", "type": "quantitative"},
            "fill": {"field": "kind", "type": "nominal", "legend": null, "scale": {"domain": ["level", "last", "ema", "ma"], "range": ["#1fb6c9", "#0f9d80", "#2f6be8", "#ea3f4d"]}}
          }
        },
        {
          "data": {"name": "tags"},
          "mark": {"type": "text", "align": "center", "baseline": "middle", "font": "Noto Sans", "fontSize": 9.5},
          "encoding": {
            "x": {"datum": 242.9},
            "y": {"field": "price", "type": "quantitative"},
            "text": {"field": "label"},
            "color": {"condition": {"test": "datum.kind == 'level'", "value": "#222222"}, "value": "#ffffff"}
          }
        },
        {
          "data": {"name": "one"},
          "mark": {"type": "bar", "orient": "horizontal", "size": 14, "cornerRadius": 3, "fill": "#ffffff", "stroke": "#e0e0e0"},
          "encoding": {
            "x": {"datum": 238},
            "x2": {"datum": 248},
            "y": {"datum": 1991.58}
          }
        },
        {
          "data": {"name": "one"},
          "mark": {"type": "text", "text": "USD", "align": "center", "baseline": "middle", "font": "Noto Sans", "fontSize": 9.5, "color": "#333333"},
          "encoding": {
            "x": {"datum": 243},
            "y": {"datum": 1991.58}
          }
        }
      ]
    },
    {
      "layer": [
        {
          "data": {"name": "macd"},
          "mark": {"type": "area", "color": "#2962f0", "interpolate": "monotone"},
          "encoding": {
            "x": {"field": "bar", "type": "quantitative"},
            "y": {
              "field": "macd", "type": "quantitative",
              "scale": {"domain": [-4.44, 77.96], "nice": false, "zero": false, "padding": 0},
              "axis": null
            },
            "y2": {"datum": 0}
          }
        },
        {
          "data": {"name": "one"},
          "mark": {"type": "rule", "color": "#8fb0f5", "strokeWidth": 1},
          "encoding": {
            "x": {"datum": -0.277},
            "x2": {"datum": 215.4},
            "y": {"datum": 0, "axis": null}
          }
        },
        {
          "data": {"name": "one"},
          "mark": {"type": "text", "text": "0.00", "align": "center", "baseline": "middle", "font": "Noto Sans", "fontSize": 9.5, "color": "#333333"},
          "encoding": {
            "x": {"datum": 241.7},
            "y": {"datum": 0.4, "axis": null}
          }
        },
        {
          "data": {"name": "one"},
          "mark": {"type": "bar", "orient": "horizontal", "size": 14, "cornerRadius": 1, "fill": "#2962f0"},
          "encoding": {
            "x": {"datum": 237.2},
            "x2": {"datum": 246},
            "y": {"datum": -1.48, "axis": null}
          }
        },
        {
          "data": {"name": "one"},
          "mark": {"type": "text", "text": "\u22121.48", "align": "center", "baseline": "middle", "font": "Noto Sans", "fontSize": 9.5, "color": "#ffffff"},
          "encoding": {
            "x": {"datum": 241.6},
            "y": {"datum": -1.48, "axis": null}
          }
        },
        {
          "data": {"name": "one"},
          "mark": {"type": "text", "text": "MACD", "align": "left", "baseline": "middle", "font": "Noto Sans", "fontSize": 9.5, "color": "#333333"},
          "encoding": {
            "x": {"datum": 0.28},
            "y": {"datum": 4.63, "axis": null}
          }
        },
        {
          "data": {"name": "one"},
          "mark": {"type": "text", "text": "\u22121.48", "align": "left", "baseline": "middle", "font": "Noto Sans", "fontSize": 9.5, "color": "#4f78bb"},
          "encoding": {
            "x": {"datum": 9},
            "y": {"datum": 4.63, "axis": null}
          }
        }
      ]
    }
  ],
  "resolve": {"scale": {"y": "independent", "color": "independent", "fill": "independent"}}
}
